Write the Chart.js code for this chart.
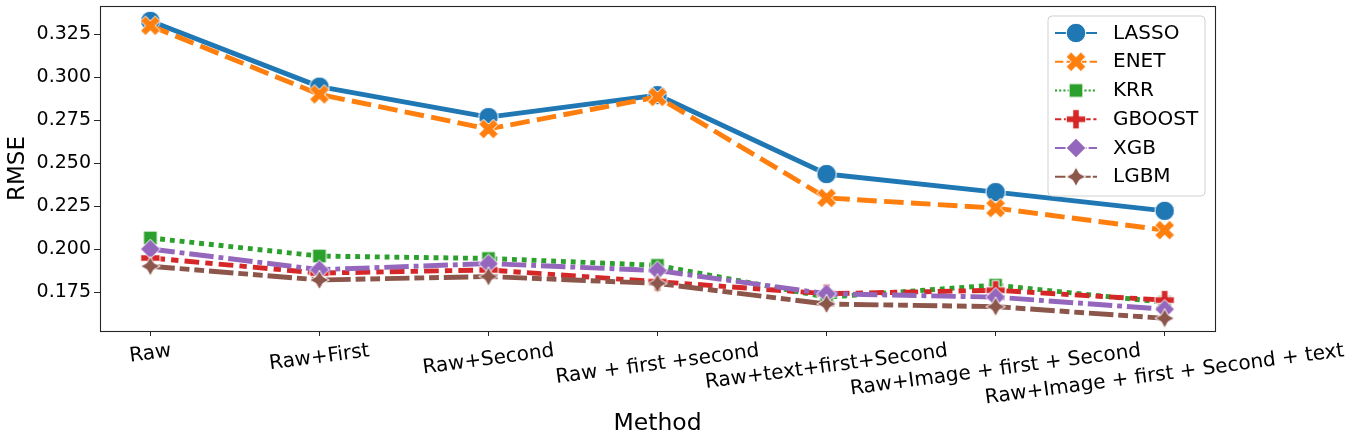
<!DOCTYPE html>
<html>
<head>
<meta charset="utf-8">
<script src="https://cdn.jsdelivr.net/npm/chart.js@4.4.1/dist/chart.umd.min.js"></script>
<style>
  html, body { margin: 0; padding: 0; background: #ffffff; }
  #wrap { width: 1353px; height: 444px; position: relative; }
</style>
</head>
<body>
<div id="wrap"><canvas id="c"></canvas></div>
<script>
// ---- data ----
const categories = ['Raw', 'Raw+First', 'Raw+Second', 'Raw + first +second', 'Raw+text+first+Second', 'Raw+Image + first + Second', 'Raw+Image + first + Second + text'];
const yTicks = [0.175, 0.200, 0.225, 0.250, 0.275, 0.300, 0.325];
const seriesNames = ['LASSO', 'ENET', 'KRR', 'GBOOST', 'XGB', 'LGBM'];
const LASSO  = [0.3326, 0.2944, 0.2767, 0.2895, 0.2436, 0.2331, 0.2222];
const ENET   = [0.3298, 0.2899, 0.2698, 0.2884, 0.2297, 0.2238, 0.2110];
const KRR    = [0.2064, 0.1959, 0.1945, 0.1905, 0.1720, 0.1790, 0.1690];
const GBOOST = [0.1948, 0.1860, 0.1878, 0.1810, 0.1740, 0.1760, 0.1703];
const XGB    = [0.2000, 0.1880, 0.1915, 0.1875, 0.1740, 0.1720, 0.1650];
const LGBM   = [0.1900, 0.1820, 0.1840, 0.1800, 0.1680, 0.1665, 0.1597];
const seriesValues = [LASSO, ENET, KRR, GBOOST, XGB, LGBM];

// ---- styles ----
const colors = ['#1f77b4', '#ff7f0e', '#2ca02c', '#d62728', '#9467bd', '#8c564b'];
const dashUnits = [[], [4, 1.5], [1, 1], [3, 1.25, 1.5, 1.25], [5, 1, 1, 1], [5, 1, 2, 1, 2, 1]];
const markerTypes = ['circle', 'x', 'square', 'plus', 'diamond', 'star'];
const LW = 4.9;
const MS = 19.5;
const FONT = "'DejaVu Sans', 'Liberation Sans', sans-serif";

function markerPath(ctx, type, ms) {
  const h = ms / 2;
  ctx.beginPath();
  if (type === 'circle') {
    ctx.arc(0, 0, h, 0, Math.PI * 2);
    return;
  }
  let pts;
  if (type === 'x') {
    pts = [[-1,-2],[0,-1],[1,-2],[2,-1],[1,0],[2,1],[1,2],[0,1],[-1,2],[-2,1],[-1,0],[-2,-1]].map(p => [p[0] / 4 * ms, p[1] / 4 * ms]);
  } else if (type === 'plus') {
    pts = [[-1,-3],[1,-3],[1,-1],[3,-1],[3,1],[1,1],[1,3],[-1,3],[-1,1],[-3,1],[-3,-1],[-1,-1]].map(p => [p[0] / 6 * ms, p[1] / 6 * ms]);
  } else if (type === 'square') {
    const s = h * Math.SQRT1_2;
    pts = [[-s,-s],[s,-s],[s,s],[-s,s]];
  } else if (type === 'diamond') {
    pts = [[0,-h],[h,0],[0,h],[-h,0]];
  } else if (type === 'star') {
    pts = [];
    for (let k = 0; k < 8; k++) {
      const r = (k % 2 === 0) ? h : h * 0.5;
      const a = -Math.PI / 2 + k * Math.PI / 4;
      pts.push([r * Math.cos(a), r * Math.sin(a)]);
    }
  }
  ctx.moveTo(pts[0][0], pts[0][1]);
  for (let k = 1; k < pts.length; k++) ctx.lineTo(pts[k][0], pts[k][1]);
  ctx.closePath();
}

function makeMarker(type, color) {
  const size = 26;
  const cv = document.createElement('canvas');
  cv.width = size; cv.height = size;
  const ctx = cv.getContext('2d');
  ctx.translate(size / 2, size / 2);
  markerPath(ctx, type, MS);
  ctx.fillStyle = color;
  ctx.fill();
  ctx.lineWidth = 1;
  ctx.strokeStyle = '#ffffff';
  ctx.lineJoin = 'miter';
  ctx.stroke();
  return cv;
}

const markers = markerTypes.map((t, i) => makeMarker(t, colors[i]));

const datasets = seriesNames.map((name, i) => ({
  label: name,
  data: seriesValues[i].map((v, j) => ({ x: j, y: v })),
  borderColor: colors[i],
  backgroundColor: colors[i],
  borderWidth: LW,
  borderDash: dashUnits[i].map(d => d * LW),
  borderCapStyle: 'butt',
  borderJoinStyle: 'round',
  pointStyle: markers[i],
  pointRadius: 10,
  pointHoverRadius: 10,
  tension: 0,
  fill: false,
  order: seriesNames.length - i,
  clip: false
}));

// ---- plugins ----
const framePlugin = {
  id: 'frame',
  afterDatasetsDraw(chart) {
    const { ctx, chartArea: a } = chart;
    ctx.save();
    ctx.strokeStyle = '#262626';
    ctx.lineWidth = 1.1;
    ctx.strokeRect(Math.round(a.left) + 0.5, Math.round(a.top) + 0.5, Math.round(a.right - a.left), Math.round(a.bottom - a.top));
    ctx.restore();
  }
};

const xLabelPlugin = {
  id: 'xLabels',
  afterDraw(chart) {
    const { ctx, chartArea: a } = chart;
    const xs = chart.scales.x;
    const fs = 20;
    const theta = 7.5 * Math.PI / 180;
    ctx.save();
    ctx.font = fs + 'px ' + FONT;
    ctx.fillStyle = '#000000';
    ctx.textAlign = 'center';
    ctx.textBaseline = 'middle';
    categories.forEach((lab, i) => {
      const w = ctx.measureText(lab).width;
      const h = fs * 1.164;
      const H = w * Math.sin(theta) + h * Math.cos(theta);
      const cx = xs.getPixelForValue(i);
      const cy = a.bottom + 8.5 + H / 2;
      ctx.save();
      ctx.translate(cx, cy);
      ctx.rotate(-theta);
      ctx.fillText(lab, 0, 0);
      ctx.restore();
    });
    ctx.restore();
  }
};

const legendPlugin = {
  id: 'customLegend',
  afterDraw(chart) {
    const { ctx } = chart;
    const x0 = 1048, y0 = 16, w = 157, h = 180, r = 4;
    ctx.save();
    ctx.beginPath();
    ctx.moveTo(x0 + r, y0);
    ctx.arcTo(x0 + w, y0, x0 + w, y0 + h, r);
    ctx.arcTo(x0 + w, y0 + h, x0, y0 + h, r);
    ctx.arcTo(x0, y0 + h, x0, y0, r);
    ctx.arcTo(x0, y0, x0 + w, y0, r);
    ctx.closePath();
    ctx.fillStyle = 'rgba(255,255,255,0.8)';
    ctx.fill();
    ctx.strokeStyle = 'rgba(204,204,204,0.9)';
    ctx.lineWidth = 1;
    ctx.stroke();
    const llw = 2.1;
    seriesNames.forEach((name, i) => {
      const y = 33 + i * 28.75;
      ctx.save();
      ctx.beginPath();
      ctx.setLineDash(dashUnits[i].map(d => d * llw));
      ctx.strokeStyle = colors[i];
      ctx.lineWidth = llw;
      ctx.lineCap = 'butt';
      ctx.moveTo(1055, y);
      ctx.lineTo(1097, y);
      ctx.stroke();
      ctx.restore();
      const m = markers[i];
      ctx.drawImage(m, 1076 - m.width / 2, y - m.height / 2);
      ctx.font = '20px ' + FONT;
      ctx.fillStyle = '#000000';
      ctx.textAlign = 'left';
      ctx.textBaseline = 'middle';
      ctx.fillText(name, 1113, y + 0.5);
    });
    ctx.restore();
  }
};

new Chart(document.getElementById('c'), {
  type: 'line',
  data: { datasets },
  plugins: [framePlugin, xLabelPlugin, legendPlugin],
  options: {
    responsive: true,
    maintainAspectRatio: false,
    devicePixelRatio: 1,
    animation: false,
    events: [],
    layout: { autoPadding: false, padding: { top: 6, right: 138, left: 0, bottom: 0 } },
    plugins: { legend: { display: false }, tooltip: { enabled: false }, title: { display: false } },
    scales: {
      x: {
        type: 'linear',
        min: -0.298,
        max: 6.298,
        afterBuildTicks(scale) { scale.ticks = categories.map((c, i) => ({ value: i })); },
        afterFit(scale) { scale.height = 113; scale.paddingLeft = 0; scale.paddingRight = 0; },
        ticks: { display: false },
        grid: { drawOnChartArea: false, drawTicks: true, tickLength: 5, color: '#262626', lineWidth: 1 },
        border: { display: false },
        title: { display: true, text: 'Method', color: '#000000', font: { family: FONT, size: 23.5 }, padding: { top: 0, bottom: 6 } }
      },
      y: {
        type: 'linear',
        min: 0.15233,
        max: 0.34128,
        afterBuildTicks(scale) { scale.ticks = yTicks.map(v => ({ value: v })); },
        afterFit(scale) { scale.width = 100; scale.paddingTop = 0; scale.paddingBottom = 0; },
        ticks: {
          color: '#000000',
          font: { family: FONT, size: 19 },
          padding: 3,
          callback: (v) => Number(v).toFixed(3)
        },
        grid: { drawOnChartArea: false, drawTicks: true, tickLength: 6, color: '#262626', lineWidth: 1 },
        border: { display: false },
        title: { display: true, text: 'RMSE', color: '#000000', font: { family: FONT, size: 23 }, padding: { top: 4, bottom: 0 } }
      }
    }
  }
});
</script>
</body>
</html>
